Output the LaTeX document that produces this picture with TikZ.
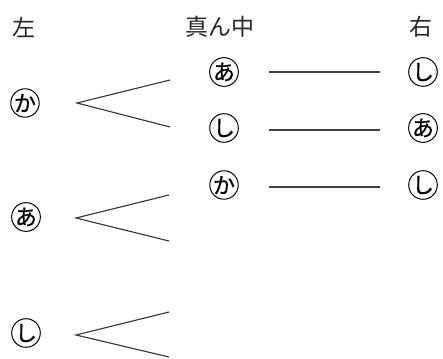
\documentclass[tikz,border=0pt]{standalone}
\usepackage{fontspec}
\newfontfamily\jp{Noto Sans CJK JP}
\newfontfamily\jpc[FakeBold=0.6]{Noto Sans CJK JP}
\begin{document}
\begin{tikzpicture}[x=1pt,y=-1pt,
  head/.style={font=\jp\fontsize{23}{23}\selectfont, inner sep=0pt, text=black!85},
  circ/.style={draw, circle, line width=1pt, minimum size=27pt, inner sep=0pt, font=\jpc\fontsize{22}{22}\selectfont, text=black},
  branch/.style={line width=1.1pt, draw=black!80},
  link/.style={line width=1.5pt, draw=black!75}]
\useasboundingbox (0,0) rectangle (443,358);
% headers
\node[head] (hL) at (24,27) {左};
\node[head] (hM) at (220,27) {真ん中};
\node[head] (hR) at (421,27) {右};
% left column
\node[circ] (L1) at (25,103) {か};
\node[circ] (L2) at (26,217) {あ};
\node[circ] (L3) at (26,333) {し};
% middle column
\node[circ] (M1) at (224,72) {あ};
\node[circ] (M2) at (224,128) {し};
\node[circ] (M3) at (224,185) {か};
% right column
\node[circ] (R1) at (423,72) {し};
\node[circ] (R2) at (423,128) {あ};
\node[circ] (R3) at (423,185) {し};
% branch coordinates
\coordinate (a1) at (77,103); \coordinate (u1) at (170,80); \coordinate (d1) at (170,127);
\coordinate (a2) at (76,218); \coordinate (u2) at (169,195); \coordinate (d2) at (169,241);
\coordinate (a3) at (76,335); \coordinate (u3) at (169,312); \coordinate (d3) at (169,357);
\draw[branch] (u1) -- (a1) -- (d1);
\draw[branch] (u2) -- (a2) -- (d2);
\draw[branch] (u3) -- (a3) -- (d3);
% links
\coordinate (s1) at (269,72); \coordinate (e1) at (380,72);
\coordinate (s2) at (269,130); \coordinate (e2) at (380,130);
\coordinate (s3) at (269,187); \coordinate (e3) at (380,187);
\draw[link] (s1) -- (e1);
\draw[link] (s2) -- (e2);
\draw[link] (s3) -- (e3);
\end{tikzpicture}
\end{document}
